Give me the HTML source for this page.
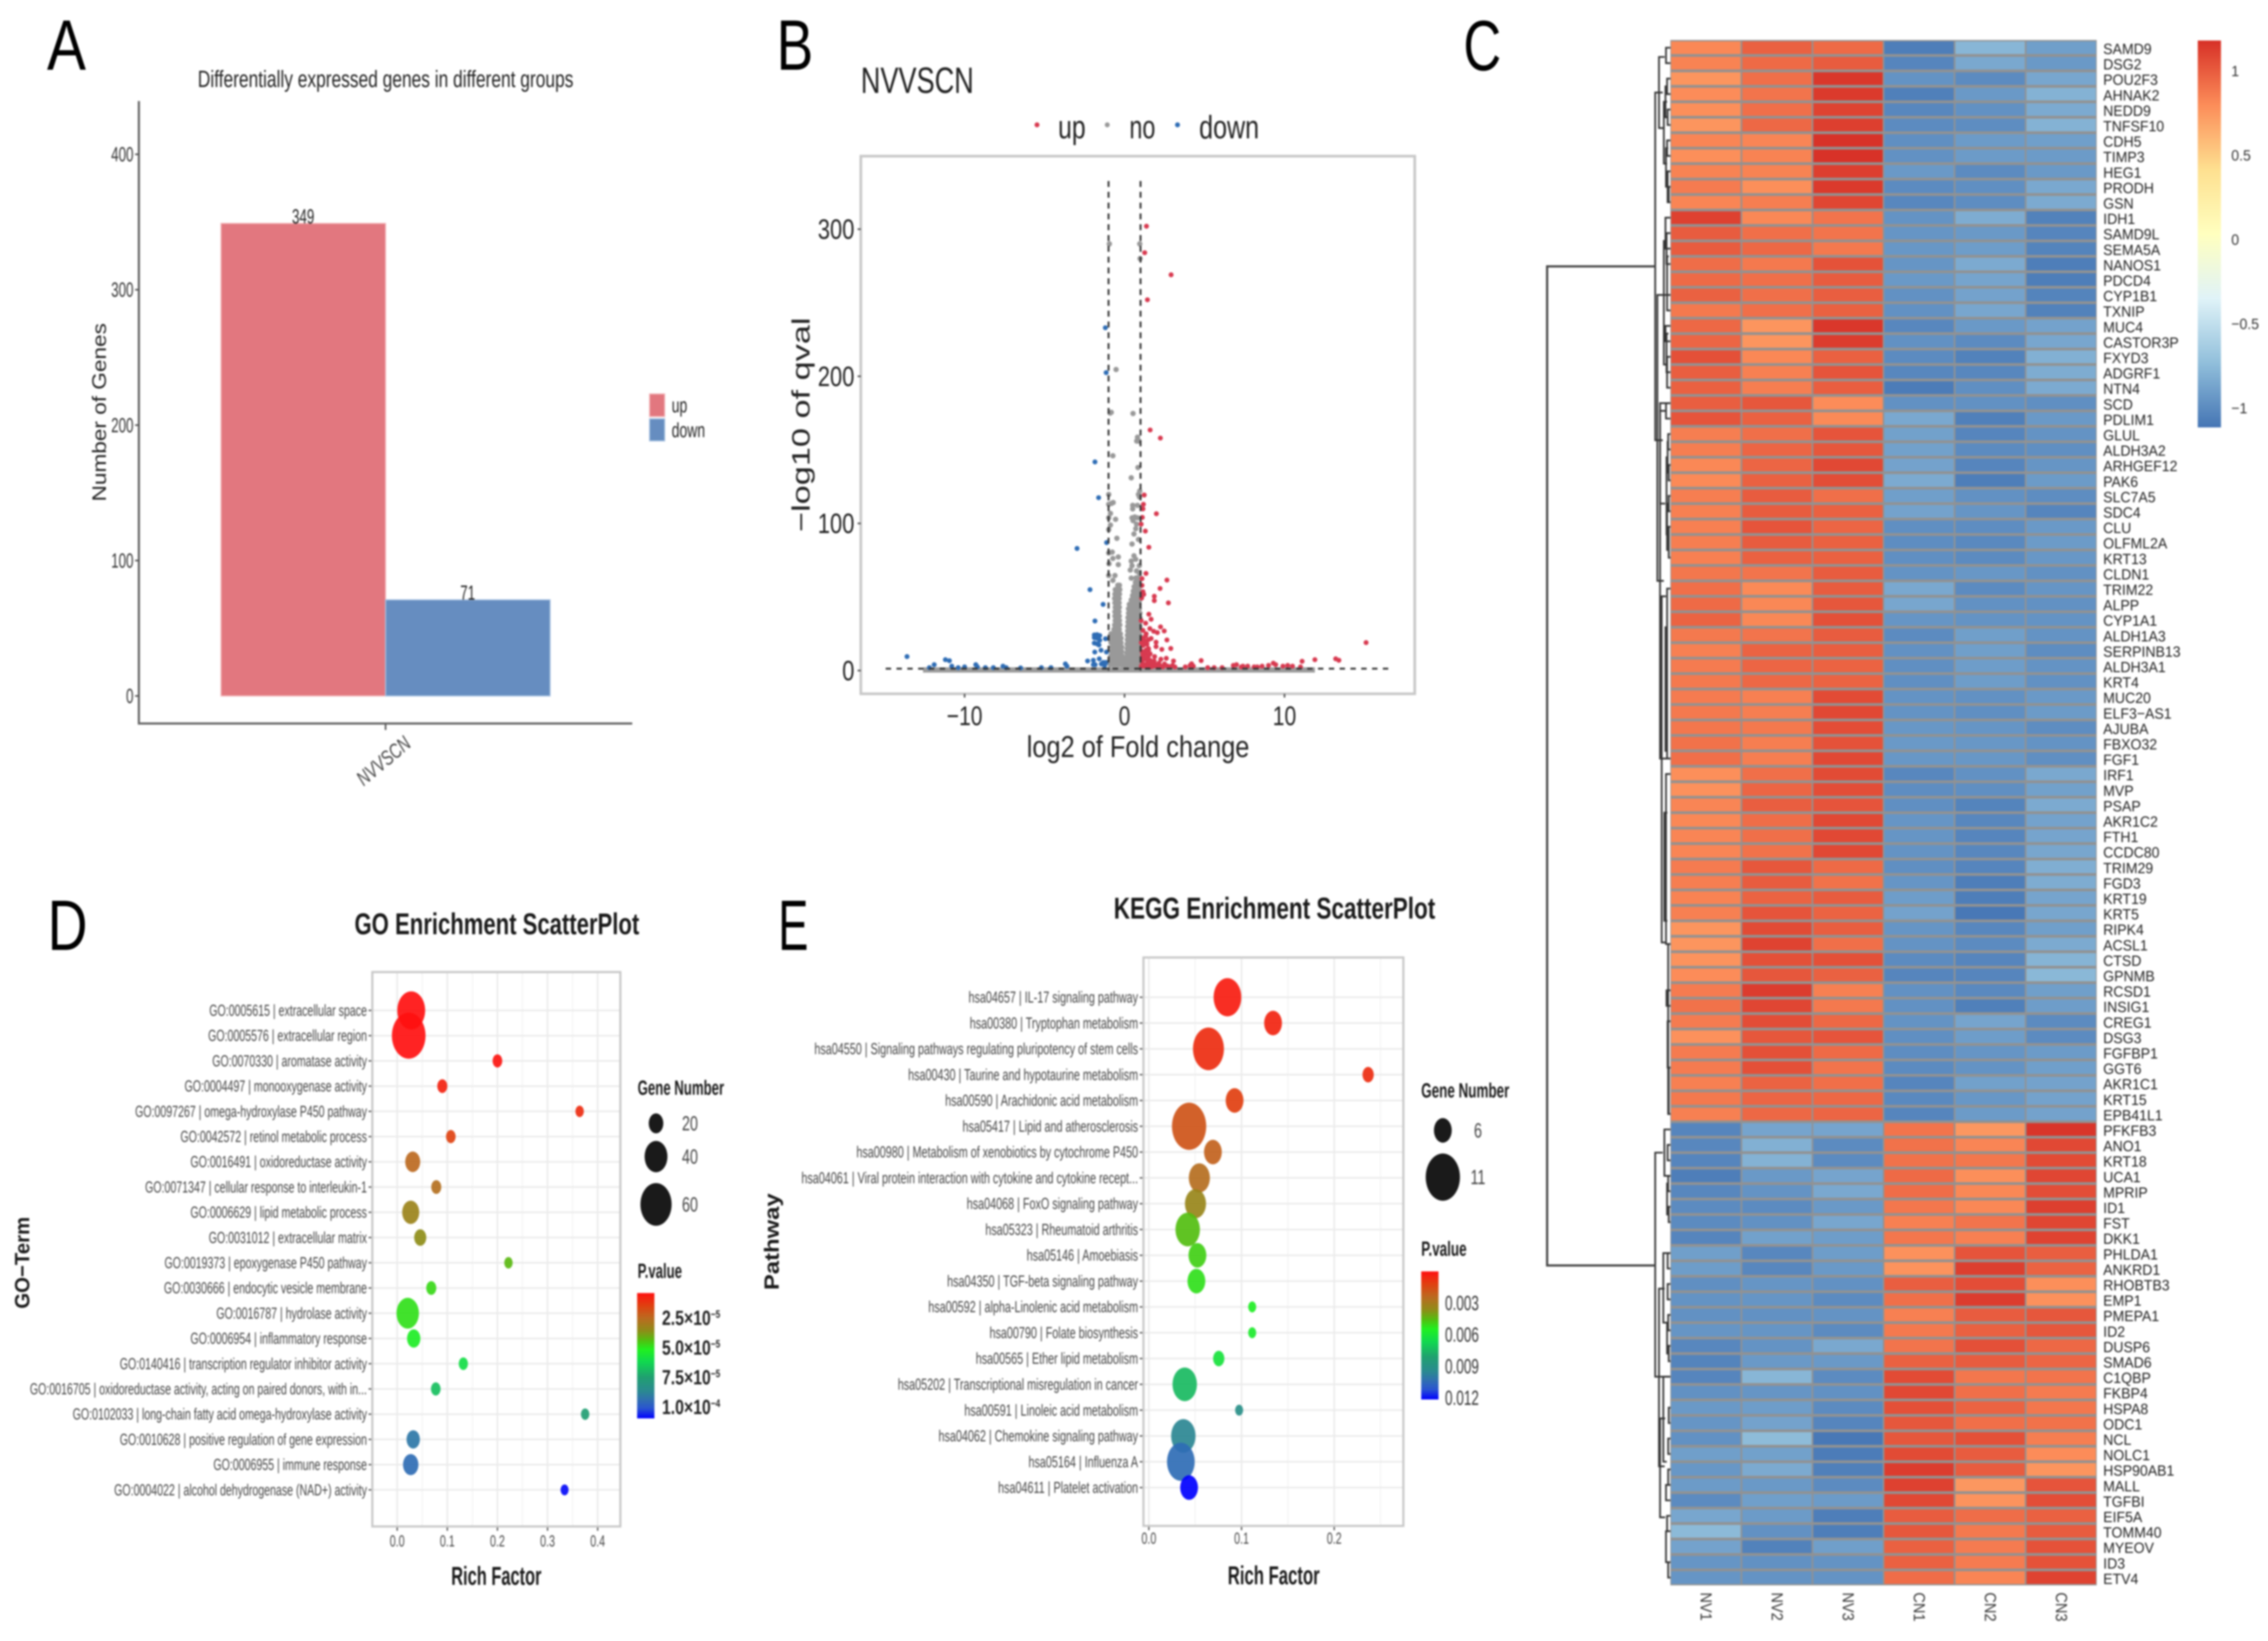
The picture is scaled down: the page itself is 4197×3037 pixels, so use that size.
<!DOCTYPE html>
<html lang="en">
<head>
<meta charset="utf-8">
<title>Differential expression figure</title>
<style>
html,body{margin:0;padding:0;background:#fff;}
#figure{display:block;filter:blur(1.5px);font-family:"Liberation Sans",sans-serif;}
</style>
</head>
<body>
<svg id="figure" width="4197" height="3037" viewBox="0 0 4197 3037">
<rect x="0" y="0" width="4197" height="3037" fill="#ffffff"/>
<defs id="defs"></defs>

<g fill="#000">
<text x="87" y="129" font-size="132" textLength="72" lengthAdjust="spacingAndGlyphs">A</text>
<text x="1437" y="129" font-size="132" textLength="68" lengthAdjust="spacingAndGlyphs">B</text>
<text x="2708" y="130" font-size="132" textLength="70" lengthAdjust="spacingAndGlyphs">C</text>
<text x="88" y="1758" font-size="132" textLength="74" lengthAdjust="spacingAndGlyphs">D</text>
<text x="1440" y="1758" font-size="132" textLength="56" lengthAdjust="spacingAndGlyphs">E</text>
</g>

<g id="panelA">
<text x="366" y="161" font-size="44" fill="#222" textLength="695" lengthAdjust="spacingAndGlyphs">Differentially expressed genes in different groups</text>
<text transform="translate(196,763) rotate(-90)" text-anchor="middle" font-size="36" fill="#222" textLength="330" lengthAdjust="spacingAndGlyphs">Number of Genes</text>
</g>

<g id="panelB">
<text x="1593" y="172" font-size="68" fill="#222" textLength="209" lengthAdjust="spacingAndGlyphs">NVVSCN</text>
<text x="1900" y="1401" font-size="56" fill="#222" textLength="412" lengthAdjust="spacingAndGlyphs">log2 of Fold change</text>
<text transform="translate(1498,786) rotate(-90)" text-anchor="middle" font-size="46" fill="#222" textLength="397" lengthAdjust="spacingAndGlyphs">−log10 of qval</text>
<text x="1958" y="256" font-size="60" fill="#222" textLength="51" lengthAdjust="spacingAndGlyphs">up</text>
<text x="2090" y="256" font-size="60" fill="#222" textLength="48" lengthAdjust="spacingAndGlyphs">no</text>
<text x="2219" y="256" font-size="60" fill="#222" textLength="111" lengthAdjust="spacingAndGlyphs">down</text>
</g>

<g id="panelC"></g>

<g id="panelD">
<text x="656" y="1729" font-size="56" font-weight="700" fill="#1a1a1a" textLength="527" lengthAdjust="spacingAndGlyphs">GO Enrichment ScatterPlot</text>
<text x="835" y="2933" font-size="48" font-weight="700" fill="#1a1a1a" textLength="167" lengthAdjust="spacingAndGlyphs">Rich Factor</text>
<text transform="translate(54,2337) rotate(-90)" text-anchor="middle" font-size="38" font-weight="700" fill="#1a1a1a" textLength="170" lengthAdjust="spacingAndGlyphs">GO−Term</text>
<text x="1180" y="2026" font-size="38" font-weight="700" fill="#1a1a1a" textLength="160" lengthAdjust="spacingAndGlyphs">Gene Number</text>
<text x="1180" y="2365" font-size="38" font-weight="700" fill="#1a1a1a" textLength="82" lengthAdjust="spacingAndGlyphs">P.value</text>
</g>

<g id="panelE">
<text x="2061" y="1700" font-size="56" font-weight="700" fill="#1a1a1a" textLength="595" lengthAdjust="spacingAndGlyphs">KEGG Enrichment ScatterPlot</text>
<text x="2272" y="2932" font-size="48" font-weight="700" fill="#1a1a1a" textLength="170" lengthAdjust="spacingAndGlyphs">Rich Factor</text>
<text transform="translate(1441,2298) rotate(-90)" text-anchor="middle" font-size="38" font-weight="700" fill="#1a1a1a" textLength="179" lengthAdjust="spacingAndGlyphs">Pathway</text>
<text x="2630" y="2031" font-size="38" font-weight="700" fill="#1a1a1a" textLength="163" lengthAdjust="spacingAndGlyphs">Gene Number</text>
<text x="2630" y="2324" font-size="38" font-weight="700" fill="#1a1a1a" textLength="84" lengthAdjust="spacingAndGlyphs">P.value</text>
</g>
</svg>

<script>
/* ---------- Panel A data ---------- */
const barSeries = ['up', 'down'];
const barValues = [349, 71];
const barCategory = 'NVVSCN';
const barYTicks = [0, 100, 200, 300, 400];

/* ---------- Panel B data: [log2 fold change, -log10 q] ---------- */
const volcanoXTicks = [-10, 0, 10];
const volcanoYTicks = [0, 100, 200, 300];
const volcanoFoldCutoff = 1;
const volcanoQCutoff = 1.3;
const volcanoBandRange = [-12.6, 11.9];
const volcanoUp = [[1.37,302],[1.26,284],[2.91,269],[1.43,252],[1.6,163.5],[2.24,158],[1.23,119.3],[1.18,113],[1.15,109.9],[1.11,104.1],[1.04,99.5],[1.3,94.8],[1.99,106.6],[1.52,83.8],[1.34,66],[2.65,61.5],[1.09,62.5],[1.09,57.9],[1.15,53.6],[1.2,51.8],[1.07,49.3],[2.22,55.8],[1.86,50.5],[1.86,47.5],[2.74,46],[1.52,38.3],[1.66,34.9],[1.04,34],[1.32,32.2],[1.58,28.5],[2.25,29.7],[1.82,26.7],[2.48,26.9],[2.05,25.8],[1.15,27.3],[1.32,23.6],[1.66,21.8],[2.65,20.8],[1.97,19.3],[1.97,16.3],[2.33,14.4],[2.89,15],[1.37,19.9],[1.2,17.5],[1.49,15],[1.32,12.6],[1.15,11.4],[1.6,11.4],[1.2,7.7],[1.88,9.5],[2.27,7.7],[2.61,8.3],[3.06,6.5],[4.79,6.8],[4.19,4.6],[1.05,3],[1.1,6],[1.1,9],[1.1,13],[1.15,17],[1.2,3],[1.25,11],[1.3,4],[1.35,8],[1.35,14],[1.4,2.5],[1.45,6],[1.5,10],[1.55,3.5],[1.6,7],[1.65,2.5],[1.7,5],[1.8,3],[1.85,6.5],[1.95,4],[2.05,2.5],[2.15,5],[2.25,3],[2.4,2.5],[2.5,4.5],[2.7,3],[2.85,2.5],[3.0,3.5],[3.15,2.5],[1.05,19],[1.1,22],[1.2,21],[1.25,18],[1.35,25],[1.4,18],[1.5,21],[1.5,14],[3.8,2.5],[4.1,3.5],[4.3,3],[5.2,2],[5.6,2],[6.1,2],[6.8,3.5],[7,4],[7.3,2.5],[7.4,3],[7.7,3],[8.1,2.5],[8.3,2.5],[8.6,3],[9,3.5],[9.3,5],[9.45,4],[9.9,3],[10.2,3.5],[10.5,3],[11,2.5],[11.1,6.3],[11.9,7.4],[13.2,8],[13.4,7],[15.1,19]];
const volcanoDown = [[-1.2,233],[-1.15,202.5],[-1.85,141.8],[-1.62,117.5],[-1.12,87],[-2.97,83],[-2.16,55],[-1.34,45],[-1.85,33.7],[-1.89,24.2],[-1.72,24.4],[-1.55,23.8],[-1.89,22.4],[-1.72,22],[-1.55,20.6],[-1.19,21.6],[-1.89,18.7],[-1.72,18.2],[-1.6,17.4],[-1.86,12.6],[-1.47,13.8],[-1.13,12.6],[-2.31,6.5],[-1.95,7],[-1.58,8],[-1.33,5.5],[-1.16,5.5],[-1.84,4],[-1.95,4],[-1.45,4.5],[-1.25,3.5],[-13.6,9.5],[-11.9,4],[-11.2,7.4],[-10.95,6.7],[-12.2,2],[-10.8,3],[-10.4,2],[-10,2.5],[-9.3,4],[-9.2,2.5],[-8.7,2],[-8.2,2],[-7.6,3],[-7.4,2],[-6.5,1.8],[-5.2,2],[-4.6,2],[-3.7,4.5],[-3.6,3]];
const volcanoNo = [
[-.95,290],[.95,290],[.97,280],[-.53,204.6],[-.9,175],[-.83,175.5],[.53,174.7],[-.73,146],[.81,158.6],[.9,156],[.76,156],[.84,138],[.42,131],[.95,122],[.93,118],
[-.99,119.7],[-.99,113],[-.82,113.6],[-.71,114.2],[-.88,106.8],[-.99,103.8],[-.56,102.8],[-.88,98.9],[-.99,95.8],[-.48,89.9],[-.77,80.5],[-.99,79.9],[-.39,77.2],[-.73,76.2],[-.39,72],[-.97,72.6],[-.99,64.6],[-.6,64.6],[-.73,61.3],
[.51,112.3],[.51,109.9],[.87,119.7],[.81,112.3],[.47,103.8],[.64,104.4],[.81,103.8],[.53,101.9],[.75,99.5],[.7,96.4],[.59,92.8],[.87,89.1],[.47,86],[.59,78],[.42,74.4],[.7,75.6],[.47,71.3],[.36,68.3],[.42,62.8],[.75,61.5],[.92,66.4],[.75,67.7],[.92,71.3],
[-.42,58],[-.32,58],[-.58,55],[-.42,55],[-.3,55],[-.6,52],[-.48,52],[-.32,52],[-.62,49],[-.48,49],[-.34,49],[-.6,46],[-.47,46],[-.34,46],[-.58,43],[-.45,43],[-.33,43],[-.6,40],[-.47,40],[-.35,40],[-.6,37],[-.46,37],[-.33,37],[-.58,34],[-.45,34],[-.32,34],[-.62,31],[-.48,31],[-.3,31],[-.66,28],[-.5,28],[-.33,28],[-.85,25],[-.72,25],[-.52,25],[-.34,25],[-.26,25],[-.85,22],[-.7,22],[-.52,22],[-.36,22],[-.22,22],[-.85,19],[-.68,19],[-.52,19],[-.36,19],[-.22,19],[-.78,16],[-.62,16],[-.46,16],[-.3,16],[-.18,16],[-.82,13],[-.66,13],[-.5,13],[-.34,13],[-.18,13],[-.85,10],[-.68,10],[-.5,10],[-.34,10],[-.16,10],[-.9,7],[-.72,7],[-.55,7],[-.38,7],[-.2,7],[-.1,7],[-.9,4],[-.72,4],[-.55,4],[-.38,4],[-.2,4],[-.08,4],
[.72,63],[.82,63],[.68,60],[.8,60],[.9,60],[.6,57],[.72,57],[.84,57],[.95,57],[.55,54],[.68,54],[.8,54],[.92,54],[.5,51],[.62,51],[.75,51],[.88,51],[.42,48],[.55,48],[.68,48],[.82,48],[.95,48],[.3,45],[.45,45],[.6,45],[.75,45],[.9,45],[.25,42],[.42,42],[.58,42],[.75,42],[.92,42],[.25,39],[.4,39],[.55,39],[.7,39],[.85,39],[.96,39],[.22,36],[.38,36],[.54,36],[.7,36],[.86,36],[.96,36],[.22,33],[.38,33],[.54,33],[.7,33],[.86,33],[.96,33],[.2,30],[.36,30],[.52,30],[.68,30],[.84,30],[.96,30],[.2,27],[.36,27],[.52,27],[.68,27],[.84,27],[.96,27],[.18,24],[.34,24],[.5,24],[.66,24],[.82,24],[.96,24],[.18,21],[.34,21],[.5,21],[.66,21],[.82,21],[.96,21],[.16,18],[.32,18],[.48,18],[.64,18],[.8,18],[.96,18],[.16,15],[.32,15],[.48,15],[.64,15],[.8,15],[.96,15],[.14,12],[.3,12],[.46,12],[.62,12],[.78,12],[.96,12],[.12,9],[.28,9],[.44,9],[.6,9],[.76,9],[.96,9],[.1,6],[.26,6],[.42,6],[.58,6],[.74,6],[.92,6],[.1,3],[.26,3],[.42,3],[.58,3],[.74,3],[.92,3]];

/* ---------- Panel C data ---------- */
const heatColumns = ['NV1','NV2','NV3','CN1','CN2','CN3'];
const heatGenes = ['SAMD9','DSG2','POU2F3','AHNAK2','NEDD9','TNFSF10','CDH5','TIMP3','HEG1','PRODH','GSN','IDH1','SAMD9L','SEMA5A','NANOS1','PDCD4','CYP1B1','TXNIP','MUC4','CASTOR3P','FXYD3','ADGRF1','NTN4','SCD','PDLIM1','GLUL','ALDH3A2','ARHGEF12','PAK6','SLC7A5','SDC4','CLU','OLFML2A','KRT13','CLDN1','TRIM22','ALPP','CYP1A1','ALDH1A3','SERPINB13','ALDH3A1','KRT4','MUC20','ELF3−AS1','AJUBA','FBXO32','FGF1','IRF1','MVP','PSAP','AKR1C2','FTH1','CCDC80','TRIM29','FGD3','KRT19','KRT5','RIPK4','ACSL1','CTSD','GPNMB','RCSD1','INSIG1','CREG1','DSG3','FGFBP1','GGT6','AKR1C1','KRT15','EPB41L1','PFKFB3','ANO1','KRT18','UCA1','MPRIP','ID1','FST','DKK1','PHLDA1','ANKRD1','RHOBTB3','EMP1','PMEPA1','ID2','DUSP6','SMAD6','C1QBP','FKBP4','HSPA8','ODC1','NCL','NOLC1','HSP90AB1','MALL','TGFBI','EIF5A','TOMM40','MYEOV','ID3','ETV4'];
const heatValues = [
[.82,.98,.94,-1.07,-.78,-.9],[.84,.94,1.0,-1.03,-.85,-.93],[.76,.92,1.15,-.96,-1.0,-.86],[.8,.9,1.14,-1.06,-.93,-.8],[.79,.92,1.1,-1.02,-.97,-.84],[.76,.95,1.12,-1.0,-.99,-.8],[.83,.83,1.17,-.98,-.92,-.9],[.79,.84,1.17,-.97,-.92,-.92],[.84,.84,1.12,-.93,-1.0,-.93],[.87,.79,1.14,-1.0,-.98,-.85],
[.83,.86,1.09,-1.02,-.99,-.84],[1.11,.82,.9,-.96,-.83,-1.05],[1.0,.92,.9,-.95,-.93,-1.03],[1.0,.95,.88,-.94,-.91,-1.04],[.93,.88,1.04,-.95,-.84,-1.07],[.94,.92,1.0,-.93,-.87,-1.07],[.98,.92,.99,-.97,-.88,-1.04],[.88,.92,.98,-.97,-.86,-1.05],[.95,.76,1.15,-1.02,-.93,-.88],[.96,.76,1.13,-.97,-1.0,-.86],
[1.05,.82,.98,-1.0,-1.05,-.81],[.99,.85,1.03,-1.02,-1.02,-.83],[.98,.86,.99,-1.08,-.98,-.84],[.99,1.02,.8,-.97,-.97,-.98],[1.03,.98,.81,-.85,-1.06,-.93],[.86,.92,1.03,-.89,-1.03,-.96],[.86,.96,1.02,-.89,-1.0,-.98],[.82,.96,1.08,-.88,-1.03,-.95],[.81,.98,1.06,-.84,-1.07,-.92],[.86,1.0,.92,-.9,-.97,-.99],
[.85,1.0,.98,-.88,-.95,-1.03],[.85,1.03,.96,-.98,-.99,-.93],[.86,1.0,.98,-.99,-1.01,-.92],[.85,.98,.98,-.98,-1.0,-.94],[.89,.9,1.0,-.96,-.94,-.97],[.92,.81,1.0,-.85,-1.0,-.95],[.94,.82,1.02,-.86,-.97,-.97],[.97,.82,1.05,-.95,-.96,-.96],[.88,.9,1.0,-1.0,-.9,-.96],[.85,.97,.99,-.97,-.9,-.99],
[.87,.96,.97,-.98,-.91,-.96],[.88,.95,.97,-.98,-.91,-.97],[.87,.85,1.07,-.96,-.97,-.93],[.88,.86,1.08,-.96,-.98,-.92],[.89,.88,1.06,-.94,-.95,-.99],[.91,.86,1.04,-.93,-.94,-.96],[.92,.86,1.08,-.94,-.94,-.98],[.79,.92,1.07,-1.02,-.97,-.85],[.78,.96,1.06,-.99,-.98,-.89],[.83,.99,1.03,-.98,-1.04,-.84],
[.82,.93,1.08,-.95,-1.02,-.88],[.83,.92,1.08,-.95,-1.03,-.87],[.83,.91,1.08,-.96,-1.02,-.86],[.87,1.02,.94,-.98,-1.03,-.82],[.86,1.0,.91,-.95,-1.07,-.83],[.84,.97,1.0,-.91,-1.07,-.87],[.85,1.03,.97,-.88,-1.1,-.86],[.76,1.07,.99,-.95,-1.02,-.9],[.76,1.1,.92,-.96,-1.0,-.84],[.77,1.05,1.05,-1.0,-1.03,-.79],
[.8,1.02,.98,-1.03,-1.03,-.77],[.87,1.13,.85,-.97,-1.01,-.9],[.91,1.09,.88,-.97,-1.06,-.91],[.87,1.06,.95,-.96,-.87,-1.0],[.78,1.02,1.03,-.98,-.91,-1.0],[.87,1.05,.94,-.99,-.95,-.92],[.87,1.05,.9,-1.0,-.96,-.9],[.85,.97,.92,-1.03,-.89,-.88],[.88,.96,.95,-1.01,-.94,-.88],[.85,.95,.96,-1.03,-.92,-.88],
[-1.03,-.87,-.87,.9,.75,1.16],[-1.02,-.81,-1.0,.91,.83,1.08],[-1.03,-.8,-1.0,.91,.89,1.07],[-1.07,-.93,-.87,.94,.79,1.09],[-1.02,-.96,-.85,.93,.82,1.06],[-1.0,-1.0,-.93,.89,.82,1.12],[-1.0,-.97,-.86,.85,.9,1.09],[-1.03,-.89,-.91,.89,.85,1.1],[-.9,-1.02,-.91,.78,1.03,.99],[-.91,-1.02,-.93,.77,1.12,.97],
[-.98,-.95,-.97,.99,1.06,.79],[-.96,-.95,-1.0,.92,1.13,.78],[-.97,-.97,-.96,.85,1.0,1.02],[-.95,-.95,-1.0,.88,.98,1.02],[-1.02,-.96,-.85,.9,1.05,.95],[-1.04,-.93,-.93,.98,1.0,.96],[-1.03,-.78,-1.0,1.07,.89,.9],[-.97,-.95,-.97,1.08,.92,.87],[-.93,-.91,-1.0,1.05,.97,.89],[-.95,-.88,-1.03,1.02,.92,.91],
[-.97,-.75,-1.1,1.02,1.05,.86],[-.9,-.89,-1.08,1.07,1.0,.8],[-.94,-.84,-1.06,1.13,1.0,.76],[-.92,-.93,-1.0,1.11,.75,1.03],[-1.0,-.9,-.92,1.08,.77,1.06],[-.86,-.92,-1.07,1.0,.93,.98],[-.76,-.97,-1.07,1.02,.88,1.0],[-.88,-1.05,-.9,.98,.87,1.04],[-.95,-.97,-.96,.98,.87,1.04],[-.95,-.96,-.96,.93,.83,1.1]];
const heatScaleDomain = [-1.115, 1.18];
const heatScaleTicks = [1, 0.5, 0, -0.5, -1];
const heatPalette = ['#4575B4','#91BFDB','#E0F3F8','#FFFFBF','#FEE090','#FC8D59','#D73027'];
/* dendrogram merges: [from row coordinate, to row coordinate, merge height] */
const dendroMerges = [[3.4,25.9,28],[1.1,5.7,21],[.5,1.5,8],[2.5,3.5,6],[4.5,5.5,5],[3,5,9],[4,8,12],[6.5,7.5,6],[8.5,10.5,5],[9.5,10.5,3],[7,9.5,8],
[16.5,35,24],[11.5,13.5,9],[12.5,14.5,7],[14,17.5,6],[13,21,12],[18.5,19.5,9],[20.5,22.5,6],[19,21.5,7],[23.5,24.5,8],[24,30,19],[25.5,26.5,4],[27.5,28.5,3],[26,28,5],[29.5,30.5,3],[31.5,33.5,3],[30,33,6],[27,32,7],[35.5,46.5,6],[23.5,46.5,19],[36,58.4,16],[38,46,9],[47.5,58.5,8],[50,57,11],[58.5,69.5,4],[61.5,62.5,7],[63.5,66.5,5],[66.5,69.5,3],
[72,86.5,28],[70.5,73.5,11],[71.5,72.5,5],[73.5,74.5,4],[75.5,76.5,3],[74,76,6],[80.8,92.3,21],[78.5,83,13],[78.5,79.5,5],[80.5,81.5,5],[82.5,83.5,4],[84.5,85.5,3],[83,85,6],[89.2,95.6,19],[86.5,92,13],[88.5,89.5,3],[90.5,91.5,4],[92.5,93.5,4],[93.5,94.5,8],[95.5,96.5,6],[98.5,99.5,4],[96.5,98.5,8]];
const dendroRoot = [493, 2342];

/* ---------- Panel D data ---------- */
const goTerms = ['GO:0005615 | extracellular space','GO:0005576 | extracellular region','GO:0070330 | aromatase activity','GO:0004497 | monooxygenase activity','GO:0097267 | omega-hydroxylase P450 pathway','GO:0042572 | retinol metabolic process','GO:0016491 | oxidoreductase activity','GO:0071347 | cellular response to interleukin-1','GO:0006629 | lipid metabolic process','GO:0031012 | extracellular matrix','GO:0019373 | epoxygenase P450 pathway','GO:0030666 | endocytic vesicle membrane','GO:0016787 | hydrolase activity','GO:0006954 | inflammatory response','GO:0140416 | transcription regulator inhibitor activity','GO:0016705 | oxidoreductase activity, acting on paired donors, with in...','GO:0102033 | long-chain fatty acid omega-hydroxylase activity','GO:0010628 | positive regulation of gene expression','GO:0006955 | immune response','GO:0004022 | alcohol dehydrogenase (NAD+) activity'];
const goRichFactor = [.028,.023,.2,.09,.364,.107,.031,.078,.027,.046,.222,.068,.021,.033,.132,.077,.375,.032,.027,.334];
const goGeneCount = [52,66,8,9,5,8,21,9,26,14,5,9,39,17,7,8,5,17,22,4];
const goPValue = [.4,.4,.5,.8,1,1.5,2.5,2.7,3.3,3.6,4.3,4.8,4.9,5.3,6,6.8,7.6,9.2,9.5,10.9];
const goXTicks = [0,.1,.2,.3,.4];
const goSizeLegend = [20,40,60];
const goColorTicks = [2.5,5,7.5,10];
const goColorTickLabels = ['2.5×10','5.0×10','7.5×10','1.0×10'];
const goColorTickExps = ['−5','−5','−5','−4'];

/* ---------- Panel E data ---------- */
const keggTerms = ['hsa04657 | IL-17 signaling pathway','hsa00380 | Tryptophan metabolism','hsa04550 | Signaling pathways regulating pluripotency of stem cells','hsa00430 | Taurine and hypotaurine metabolism','hsa00590 | Arachidonic acid metabolism','hsa05417 | Lipid and atherosclerosis','hsa00980 | Metabolism of xenobiotics by cytochrome P450','hsa04061 | Viral protein interaction with cytokine and cytokine recept...','hsa04068 | FoxO signaling pathway','hsa05323 | Rheumatoid arthritis','hsa05146 | Amoebiasis','hsa04350 | TGF-beta signaling pathway','hsa00592 | alpha-Linolenic acid metabolism','hsa00790 | Folate biosynthesis','hsa00565 | Ether lipid metabolism','hsa05202 | Transcriptional misregulation in cancer','hsa00591 | Linoleic acid metabolism','hsa04062 | Chemokine signaling pathway','hsa05164 | Influenza A','hsa04611 | Platelet activation'];
const keggRichFactor = [.0848,.134,.0643,.2366,.0925,.0434,.0691,.0545,.0503,.0419,.0524,.0513,.1115,.1115,.0754,.0387,.0974,.0372,.0345,.0434];
const keggGeneCount = [9,6,10,4,6,11,6,7,7,8,6,6,3,3,4,8,3,8,9,6];
const keggPValue = [.0003,.0005,.0007,.0007,.0012,.0018,.0022,.0026,.0034,.0046,.0049,.0052,.0056,.0058,.0062,.0075,.0092,.0096,.0105,.0122];
const keggXTicks = [0,.1,.2];
const keggSizeLegend = [6,11];
const keggColorTicks = [.003,.006,.009,.012];

/* shared p-value colour ramp: position, colour */
const pRampPositions = [0,.1,.2,.3,.38,.45,.55,.67,.78,.85,.92,1];
const pRampColors = ['#ff1010','#e04010','#bb6a20','#8f8c18','#50c010','#20f020','#10d850','#20a070','#2a8a90','#3070b0','#2a55d0','#0000ff'];

/* ---------- helpers ---------- */
const svg = document.getElementById('figure');
const NS = svg.namespaceURI;

function add(parent, tag, name, attrs) {
  const el = document.createElementNS(NS, tag);
  
  
  for (const k in attrs) el.setAttribute(k, attrs[k]);
  parent.appendChild(el);
  return el;
}
function label(parent, name, x, y, str, size, opts) {
  const o = opts || {};
  const sx = o.sx === undefined ? 1 : o.sx;
  const el = add(parent, 'text', name, {
    transform: 'translate(' + x + ' ' + y + ') rotate(' + (o.rot || 0) + ') scale(' + sx + ' 1)',
    'font-size': size,
    'text-anchor': o.anchor || 'start',
    fill: o.fill || '#333',
    'font-weight': o.weight || 400,
    'font-style': o.style || 'normal'
  });
  el.textContent = str;
  return el;
}
function hexRgb(h) {
  return [parseInt(h.slice(1,3),16), parseInt(h.slice(3,5),16), parseInt(h.slice(5,7),16)];
}
function ramp(positions, colors, t) {
  const v = Math.max(0, Math.min(1, t));
  let i = 0;
  while (i < positions.length - 2 && v > positions[i+1]) i++;
  const f = (v - positions[i]) / (positions[i+1] - positions[i]);
  const a = hexRgb(colors[i]), b = hexRgb(colors[i+1]);
  return 'rgb(' + a.map((c, k) => Math.round(c + (b[k]-c)*f)).join(',') + ')';
}
function gradient(id, positions, colors, bottomUp) {
  const g = add(document.getElementById('defs'), 'linearGradient', id, {id: id, x1: 0, y1: bottomUp ? 1 : 0, x2: 0, y2: bottomUp ? 0 : 1});
  positions.forEach((p, i) => {
    add(g, 'stop', 'gradient-stop', {offset: p, 'stop-color': colors[i]});
  });
}
gradient('pRamp', pRampPositions, pRampColors, false);
gradient('heatRamp', heatPalette.map((c, i) => i / (heatPalette.length - 1)), heatPalette, true);

/* ---------- Panel A ---------- */
(function () {
  const p = document.getElementById('panelA');
  const yA = v => 1288 - 2.506 * v;
  const xA = i => 409 + 304.5 * i;
  add(p, 'line', 'bar-y-axis-line', {x1: 257, y1: 187, x2: 257, y2: 1341, stroke: '#666', 'stroke-width': 4});
  add(p, 'line', 'bar-x-axis-line', {x1: 255, y1: 1339, x2: 1170, y2: 1339, stroke: '#666', 'stroke-width': 4});
  barYTicks.forEach(v => {
    add(p, 'line', 'bar-y-tick', {x1: 250, y1: yA(v), x2: 257, y2: yA(v), stroke: '#555', 'stroke-width': 3});
    label(p, 'bar-y-tick-label', 247, yA(v) + 13, String(v), 38, {anchor: 'end', sx: .65});
  });
  add(p, 'line', 'bar-x-tick', {x1: xA(1), y1: 1339, x2: xA(1), y2: 1351, stroke: '#555', 'stroke-width': 3});
  label(p, 'bar-x-tick-label', 718, 1418, barCategory, 38, {anchor: 'middle', rot: -40, sx: .74, fill: '#444', style: 'italic'});
  const colors = ['#E2777F', '#668DC0'];
  const strokes = ['#f3b7bb', '#a9c3e2'];
  barValues.forEach((v, i) => {
    add(p, 'rect', 'bar-' + barSeries[i], {x: xA(i), y: yA(v), width: 304.5, height: yA(0) - yA(v), fill: colors[i], stroke: strokes[i], 'stroke-width': 2});
    label(p, 'bar-value-label', xA(i) + 152, yA(v), String(v), 38, {anchor: 'middle', sx: .65, fill: '#222'});
  });
  [[729, 42], [775, 41]].forEach((r, i) => {
    add(p, 'rect', 'bar-legend-swatch-' + barSeries[i], {x: 1202, y: r[0], width: 28, height: r[1], fill: colors[i], stroke: strokes[i], 'stroke-width': 2});
    label(p, 'bar-legend-label-' + barSeries[i], 1243, r[0] + 34, barSeries[i], 38, {sx: .68, fill: '#222'});
  });
})();

/* ---------- Panel B ---------- */
(function () {
  const p = document.getElementById('panelB');
  const xV = v => 2081 + 29.6 * v;
  const yV = v => 1241 - 2.723 * v;
  add(p, 'rect', 'volcano-plot-area', {x: 1593, y: 289, width: 1025, height: 995, fill: '#fff', stroke: '#c9c9c9', 'stroke-width': 5});
  volcanoYTicks.forEach(v => {
    add(p, 'line', 'volcano-y-tick', {x1: 1587, y1: yV(v), x2: 1593, y2: yV(v), stroke: '#555', 'stroke-width': 3});
    label(p, 'volcano-y-tick-label', 1581, yV(v) + 18, String(v), 52, {anchor: 'end', sx: .78, fill: '#222'});
  });
  volcanoXTicks.forEach(v => {
    add(p, 'line', 'volcano-x-tick', {x1: xV(v), y1: 1284, x2: xV(v), y2: 1291, stroke: '#555', 'stroke-width': 3});
    label(p, 'volcano-x-tick-label', xV(v), 1342, v < 0 ? '−' + Math.abs(v) : String(v), 50, {anchor: 'middle', sx: .78, fill: '#222'});
  });
  add(p, 'rect', 'volcano-nonsignificant-band', {x: xV(volcanoBandRange[0]), y: yV(2.2), width: xV(volcanoBandRange[1]) - xV(volcanoBandRange[0]), height: yV(-1.4) - yV(2.2), fill: '#9c9c9c'});
  volcanoNo.forEach(d => {
    add(p, 'circle', 'volcano-point-no', {cx: xV(d[0]), cy: yV(d[1]), r: 5, fill: '#999'});
  });
  volcanoUp.forEach(d => {
    add(p, 'circle', 'volcano-point-up', {cx: xV(d[0]), cy: yV(d[1]), r: 4.6, fill: '#d83a50'});
  });
  volcanoDown.forEach(d => {
    add(p, 'circle', 'volcano-point-down', {cx: xV(d[0]), cy: yV(d[1]), r: 4.6, fill: '#2f6db5'});
  });
  [-volcanoFoldCutoff, volcanoFoldCutoff].forEach(v => {
    add(p, 'line', 'volcano-fold-cutoff-line', {x1: xV(v), y1: 335, x2: xV(v), y2: yV(0), stroke: '#333', 'stroke-width': 3.5, 'stroke-dasharray': '11 9'});
  });
  add(p, 'line', 'volcano-q-cutoff-line', {x1: 1639, y1: yV(volcanoQCutoff), x2: 2573, y2: yV(volcanoQCutoff), stroke: '#333', 'stroke-width': 3.5, 'stroke-dasharray': '10 10'});
  add(p, 'circle', 'volcano-legend-dot-up', {cx: 1919, cy: 231, r: 4.6, fill: '#d83a50'});
  add(p, 'circle', 'volcano-legend-dot-no', {cx: 2049, cy: 231, r: 4.6, fill: '#999'});
  add(p, 'circle', 'volcano-legend-dot-down', {cx: 2179, cy: 231, r: 4.6, fill: '#2f6db5'});
})();

/* ---------- Panel C ---------- */
(function () {
  const p = document.getElementById('panelC');
  const left = 3091, top = 74, cw = 131.5, rh = 28.6;
  const rowY = r => top + rh * r;
  const colX = c => left + cw * c;
  const scaleT = v => (v - heatScaleDomain[0]) / (heatScaleDomain[1] - heatScaleDomain[0]);
  const palettePos = heatPalette.map((c, i) => i / (heatPalette.length - 1));
  add(p, 'rect', 'heatmap-grid-background', {x: left, y: top, width: cw * heatColumns.length, height: rh * heatGenes.length, fill: '#929292'});
  heatValues.forEach((row, r) => {
    row.forEach((v, c) => {
      add(p, 'rect', 'heatmap-cell', {x: colX(c) + 1.5, y: rowY(r) + 2.5, width: cw - 3, height: rh - 5, fill: ramp(palettePos, heatPalette, scaleT(v))});
    });
    label(p, 'heatmap-row-label', 3892, rowY(r) + 26, heatGenes[r], 28, {sx: .93, fill: '#222'});
  });
  heatColumns.forEach((name, c) => {
    label(p, 'heatmap-column-label', colX(c) + cw / 2 - 10, 2947, name, 30, {rot: 90, sx: .9, fill: '#333'});
  });
  const isLeaf = c => Number.isInteger(c - .5);
  dendroMerges.forEach(m => {
    const x = left - m[2];
    const endA = isLeaf(m[0]) ? left : x + m[2] * .5;
    const endB = isLeaf(m[1]) ? left : x + m[2] * .5;
    add(p, 'polyline', 'dendrogram-branch', {points: endA + ',' + rowY(m[0]) + ' ' + x + ',' + rowY(m[0]) + ' ' + x + ',' + rowY(m[1]) + ' ' + endB + ',' + rowY(m[1]), fill: 'none', stroke: '#333', 'stroke-width': 3.2});
  });
  add(p, 'polyline', 'dendrogram-root', {points: '3063,' + dendroRoot[0] + ' 2863,' + dendroRoot[0] + ' 2863,' + dendroRoot[1] + ' 3063,' + dendroRoot[1], fill: 'none', stroke: '#444', 'stroke-width': 4});
  add(p, 'rect', 'heatmap-colorbar', {x: 4067, y: 75, width: 43, height: 716, fill: 'url(#heatRamp)'});
  const yC = v => 443 - 312 * v;
  heatScaleTicks.forEach(v => {
    label(p, 'heatmap-colorbar-label', 4129, yC(v) + 10, v < 0 ? '−' + Math.abs(v) : String(v), 28, {sx: .93, fill: '#333'});
  });
})();

/* ---------- Scatter panels ---------- */
function scatter(cfg) {
  const p = cfg.group;
  const ox = cfg.box[0], oy = cfg.box[1], w = cfg.box[2], h = cfg.box[3];
  add(p, 'rect', cfg.prefix + '-plot-area', {x: ox, y: oy, width: w, height: h, fill: '#fff'});
  const step = cfg.ticks[1] - cfg.ticks[0];
  for (let v = cfg.ticks[0] + step / 2, k = 0; k < cfg.ticks.length + 1; k++, v += step) {
    if (cfg.x(v) < ox + w) add(p, 'line', cfg.prefix + '-minor-gridline', {x1: cfg.x(v), y1: oy, x2: cfg.x(v), y2: oy + h, stroke: '#f3f3f3', 'stroke-width': 2});
  }
  cfg.ticks.forEach(v => {
    add(p, 'line', cfg.prefix + '-x-gridline', {x1: cfg.x(v), y1: oy, x2: cfg.x(v), y2: oy + h, stroke: '#ebebeb', 'stroke-width': 3});
    add(p, 'line', cfg.prefix + '-x-tick', {x1: cfg.x(v), y1: oy + h, x2: cfg.x(v), y2: oy + h + 8, stroke: '#555', 'stroke-width': 2.5});
    label(p, cfg.prefix + '-x-tick-label', cfg.x(v), cfg.xLabelY, v.toFixed(1), 30, {anchor: 'middle', sx: .66, fill: '#444'});
  });
  cfg.terms.forEach((t, i) => {
    const y = cfg.row(i);
    add(p, 'line', cfg.prefix + '-y-gridline', {x1: ox, y1: y, x2: ox + w, y2: y, stroke: '#ebebeb', 'stroke-width': 3});
    add(p, 'line', cfg.prefix + '-y-tick', {x1: ox - 7, y1: y, x2: ox, y2: y, stroke: '#555', 'stroke-width': 2.5});
    label(p, cfg.prefix + '-y-tick-label', ox - 10, y + 10, t, 30, {anchor: 'end', sx: cfg.labelScale, fill: '#444'});
  });
  add(p, 'rect', cfg.prefix + '-plot-border', {x: ox, y: oy, width: w, height: h, fill: 'none', stroke: '#c9c9c9', 'stroke-width': 4});
  cfg.rich.forEach((v, i) => {
    add(p, 'ellipse', cfg.prefix + '-point', {cx: cfg.x(v), cy: cfg.row(i), rx: cfg.rx(cfg.counts[i]), ry: cfg.ry(cfg.counts[i]), fill: ramp(pRampPositions, pRampColors, cfg.pT(cfg.pvals[i])), opacity: .92});
  });
}

(function () {
  const p = document.getElementById('panelD');
  const xG = v => 735 + 927.5 * v;
  const rowG = i => 1870 + 46.7 * i;
  const ryG = n => 8 + .525 * n;
  const rxG = n => .73 * ryG(n);
  const tG = v => (v - .4) / 10.6;
  scatter({group: p, prefix: 'go', box: [689, 1799, 459, 1026], x: xG, row: rowG, rx: rxG, ry: ryG, pT: tG, ticks: goXTicks, terms: goTerms, rich: goRichFactor, counts: goGeneCount, pvals: goPValue, xLabelY: 2862, labelScale: .654});
  let y = 2079;
  goSizeLegend.forEach((n, i) => {
    if (i > 0) y += ryG(goSizeLegend[i-1]) + ryG(n) + (i === 1 ? 14 : 20);
    add(p, 'ellipse', 'go-size-legend-dot', {cx: 1214, cy: y, rx: rxG(n), ry: ryG(n), fill: '#1a1a1a'});
    label(p, 'go-size-legend-label', 1262, y + 13, String(n), 38, {sx: .7, fill: '#444'});
  });
  add(p, 'rect', 'go-color-legend-bar', {x: 1179, y: 2393, width: 32, height: 232, fill: 'url(#pRamp)'});
  const yL = v => 2384 + 22 * v;
  goColorTicks.forEach((v, i) => {
    const el = label(p, 'go-color-legend-label', 1225, yL(v) + 13, goColorTickLabels[i], 38, {sx: .77, fill: '#222', weight: 700});
    const sup = add(el, 'tspan', 'go-color-legend-exponent', {dy: -13, 'font-size': 20});
    sup.textContent = goColorTickExps[i];
  });
})();

(function () {
  const p = document.getElementById('panelE');
  const xK = v => 2126 + 1715 * v;
  const rowK = i => 1845.6 + 47.76 * i;
  const rxK = n => 3.04 * n - 1.75;
  const ryK = n => 1.38 * rxK(n);
  const tK = v => v / .0122;
  scatter({group: p, prefix: 'kegg', box: [2116, 1772, 481, 1052], x: xK, row: rowK, rx: rxK, ry: ryK, pT: tK, ticks: keggXTicks, terms: keggTerms, rich: keggRichFactor, counts: keggGeneCount, pvals: keggPValue, xLabelY: 2857, labelScale: .666});
  let y = 2092;
  keggSizeLegend.forEach((n, i) => {
    if (i > 0) y += ryK(keggSizeLegend[i-1]) + ryK(n) + 20;
    add(p, 'ellipse', 'kegg-size-legend-dot', {cx: 2670, cy: y, rx: rxK(n), ry: ryK(n), fill: '#1a1a1a'});
    label(p, 'kegg-size-legend-label', 2735, y + 13, String(n), 38, {anchor: 'middle', sx: .7, fill: '#444'});
  });
  add(p, 'rect', 'kegg-color-legend-bar', {x: 2630, y: 2353, width: 32, height: 237, fill: 'url(#pRamp)'});
  const yL = v => 2353 + 19500 * v;
  keggColorTicks.forEach(v => {
    label(p, 'kegg-color-legend-label', 2674, yL(v) + 13, v.toFixed(3), 38, {sx: .66, fill: '#333'});
  });
})();
</script>
</body>
</html>
